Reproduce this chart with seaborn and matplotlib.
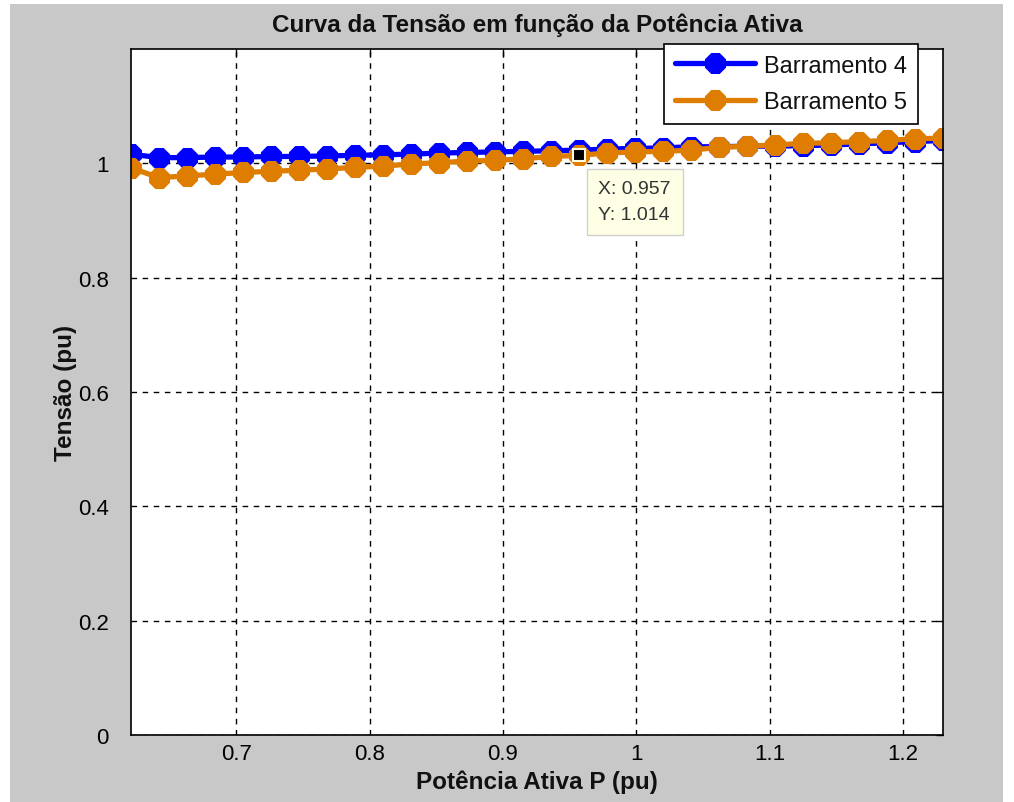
import matplotlib
matplotlib.use("Agg")
import matplotlib.pyplot as plt
import seaborn as sns
import pandas as pd
from matplotlib.patches import Rectangle

# ---- data ----
potencia = [0.621, 0.642, 0.663, 0.684, 0.705, 0.726, 0.747, 0.768, 0.789, 0.810,
            0.831, 0.852, 0.873, 0.894, 0.915, 0.936, 0.957, 0.978, 0.999, 1.020,
            1.041, 1.062, 1.083, 1.104, 1.125, 1.146, 1.167, 1.188, 1.209, 1.230]
barra4 = [1.016, 1.010, 1.010, 1.011, 1.011, 1.012, 1.012, 1.013, 1.014, 1.015,
          1.016, 1.018, 1.019, 1.020, 1.021, 1.022, 1.023, 1.025, 1.026, 1.027,
          1.029, 1.029, 1.030, 1.030, 1.031, 1.032, 1.034, 1.036, 1.038, 1.040]
barra5 = [0.992, 0.975, 0.978, 0.981, 0.984, 0.986, 0.988, 0.990, 0.993, 0.995,
          0.999, 1.001, 1.004, 1.005, 1.008, 1.012, 1.014, 1.018, 1.020, 1.021,
          1.023, 1.028, 1.030, 1.032, 1.035, 1.036, 1.038, 1.040, 1.043, 1.044]
series_names = ["Barramento 4", "Barramento 5"]
series_colors = ["#0000ff", "#de7d00"]
x_ticks = [0.7, 0.8, 0.9, 1.0, 1.1, 1.2]
x_tick_labels = ["0.7", "0.8", "0.9", "1", "1.1", "1.2"]
y_ticks = [0, 0.2, 0.4, 0.6, 0.8, 1.0]
y_tick_labels = ["0", "0.2", "0.4", "0.6", "0.8", "1"]
datatip_x, datatip_y = 0.957, 1.014

df = pd.DataFrame({"P": potencia, series_names[0]: barra4, series_names[1]: barra5})

sns.set_style("white")
plt.rcParams["font.family"] = ["Liberation Sans", "DejaVu Sans"]

W, H = 1014, 803
fig = plt.figure(figsize=(W / 100, H / 100), dpi=100)
fig.patch.set_facecolor("white")
fig.patches.append(Rectangle((10 / W, 0), (1003 - 10) / W, (H - 5) / H,
                             transform=fig.transFigure, facecolor="#c8c8c8",
                             edgecolor="none", zorder=-10))

ax_l, ax_r, ax_t, ax_b = 131, 943, 50, 736
ax = fig.add_axes([ax_l / W, 1 - ax_b / H, (ax_r - ax_l) / W, (ax_b - ax_t) / H])
ax.set_facecolor("white")

for name, col in zip(series_names, series_colors):
    sns.lineplot(data=df, x="P", y=name, ax=ax, color=col, linewidth=3.8,
                 marker="8", markersize=15, markeredgecolor=col,
                 markerfacecolor=col, label=name, clip_on=True)

ax.set_xlim(potencia[0], potencia[-1])
ax.set_ylim(0, 1.2)
ax.set_xticks(x_ticks)
ax.set_xticklabels(x_tick_labels)
ax.set_yticks(y_ticks)
ax.set_yticklabels(y_tick_labels)
ax.tick_params(direction="in", length=5, width=1, colors="black",
               labelsize=16, top=True, right=True)
ax.tick_params(axis="x", pad=6)
ax.tick_params(axis="y", pad=16)
ax.grid(True, color="black", linestyle=(0, (4, 4)), linewidth=1)
for s in ax.spines.values():
    s.set_color("black")
    s.set_linewidth(1.2)

ax.set_title("Curva da Tensão em função da Potência Ativa", fontsize=17.5,
             fontweight="bold", pad=13, color="#111111")
ax.set_xlabel("Potência Ativa P (pu)", fontsize=17.5, fontweight="bold",
              labelpad=4, color="#111111")
ax.set_ylabel("Tensão (pu)", fontsize=17.5, fontweight="bold", labelpad=1,
              color="#111111")

leg = ax.legend(loc="upper right", bbox_to_anchor=((918 - ax_l) / (ax_r - ax_l),
                                                   (ax_b - 45) / (ax_b - ax_t)),
                fontsize=17, frameon=True, fancybox=False, edgecolor="black",
                framealpha=1, handlelength=3.4, borderpad=0.45, labelspacing=0.62,
                handletextpad=0.4, borderaxespad=0)
leg.get_frame().set_linewidth(1.2)
for t in leg.get_texts():
    t.set_color("#111111")

# data tip
ax.plot([datatip_x], [datatip_y], marker="s", markersize=9, color="black",
        markeredgecolor="#fffde0", markeredgewidth=1.5, zorder=10)
ax.annotate(f"X: {datatip_x}\nY: {datatip_y}", xy=(datatip_x, datatip_y),
            xytext=(14, -18), textcoords="offset points", ha="left", va="top",
            fontsize=14, color="#333333", linespacing=1.7,
            bbox=dict(boxstyle="square,pad=0.6", facecolor="#ffffe6",
                      edgecolor="#cfcfcf", linewidth=1), zorder=11)

fig.savefig("out.png", dpi=100)
